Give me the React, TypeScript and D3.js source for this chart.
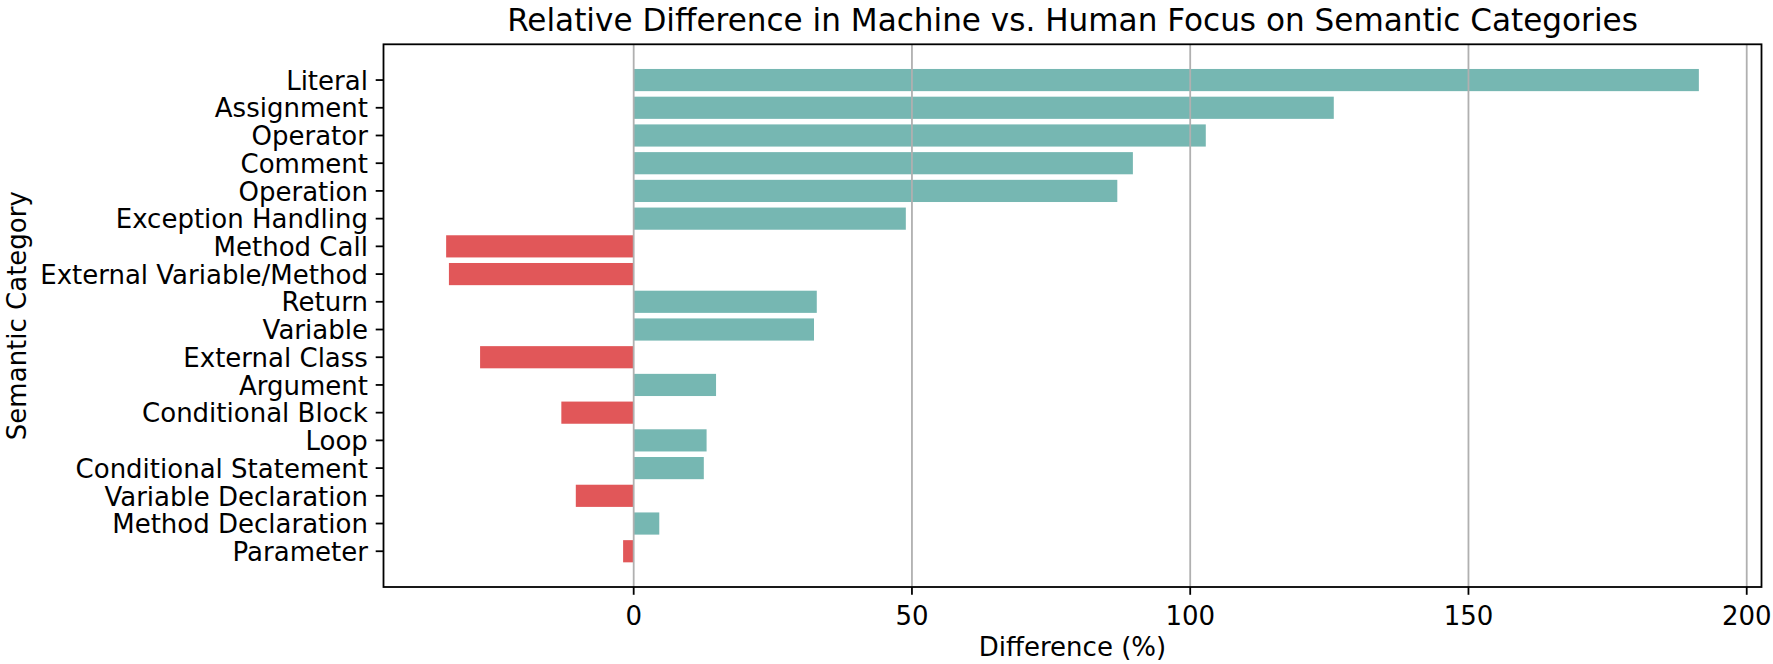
import React from "react";
import * as d3 from "d3";

const categories = [
  "Literal",
  "Assignment",
  "Operator",
  "Comment",
  "Operation",
  "Exception Handling",
  "Method Call",
  "External Variable/Method",
  "Return",
  "Variable",
  "External Class",
  "Argument",
  "Conditional Block",
  "Loop",
  "Conditional Statement",
  "Variable Declaration",
  "Method Declaration",
  "Parameter",
];

const differences = [
  191.4, 125.8, 102.8, 89.7, 86.9, 48.9, -33.7, -33.2, 32.9, 32.4, -27.6, 14.8,
  -13.0, 13.1, 12.6, -10.4, 4.6, -1.9,
];

const xTicks = [0, 50, 100, 150, 200];

const title = "Relative Difference in Machine vs. Human Focus on Semantic Categories";
const xLabel = "Difference (%)";
const yLabel = "Semantic Category";

const W = 1773;
const H = 664;
const M = { left: 383.5, right: 1761.5, top: 44.3, bottom: 587 };
const POS = "#76b7b2";
const NEG = "#e15759";
const FONT = "'DejaVu Sans', sans-serif";
const FS = 26;
const TFS = 31.1;
const TL = 7.8;

export default function App() {
  const minV = d3.min(differences) as number;
  const maxV = d3.max(differences) as number;
  const pad = (maxV - minV) * 0.05;
  const x = d3.scaleLinear().domain([minV - pad, maxV + pad]).range([M.left, M.right]);

  const n = categories.length;
  const yPad = (n - 1 + 0.8) * 0.05;
  const yLin = d3
    .scaleLinear()
    .domain([-0.4 - yPad, n - 1 + 0.4 + yPad])
    .range([M.top, M.bottom]);
  const bh = yLin(0.4) - yLin(-0.4);

  return (
    <svg
      width={W}
      height={H}
      style={{ position: "absolute", left: 0, top: 0, background: "#fff" }}
      fontFamily={FONT}
    >
      <rect x={0} y={0} width={W} height={H} fill="#fff" />
      {categories.map((c, i) => {
        const v = differences[i];
        const x0 = x(Math.min(0, v));
        const x1 = x(Math.max(0, v));
        return (
          <rect
            key={c}
            x={x0}
            y={yLin(i) - bh / 2}
            width={x1 - x0}
            height={bh}
            fill={v >= 0 ? POS : NEG}
          />
        );
      })}
      {xTicks.map((t) => (
        <line
          key={"g" + t}
          x1={x(t)}
          x2={x(t)}
          y1={M.top}
          y2={M.bottom}
          stroke="#b0b0b0"
          strokeWidth={1.8}
        />
      ))}
      <rect
        x={M.left}
        y={M.top}
        width={M.right - M.left}
        height={M.bottom - M.top}
        fill="none"
        stroke="#000"
        strokeWidth={1.8}
      />
      {xTicks.map((t) => (
        <g key={"t" + t}>
          <line x1={x(t)} x2={x(t)} y1={M.bottom} y2={M.bottom + TL} stroke="#000" strokeWidth={1.8} />
          <text x={x(t)} y={625} fontSize={FS} textAnchor="middle" fill="#000">
            {t}
          </text>
        </g>
      ))}
      {categories.map((c, i) => (
        <g key={"y" + c}>
          <line x1={M.left - TL} x2={M.left} y1={yLin(i)} y2={yLin(i)} stroke="#000" strokeWidth={1.8} />
          <text x={M.left - 2 * TL} y={yLin(i) + 9.7} fontSize={FS} textAnchor="end" fill="#000">
            {c}
          </text>
        </g>
      ))}
      <text x={(M.left + M.right) / 2} y={31} fontSize={TFS} textAnchor="middle" fill="#000">
        {title}
      </text>
      <text x={(M.left + M.right) / 2} y={656} fontSize={FS} textAnchor="middle" fill="#000">
        {xLabel}
      </text>
      <text
        transform={`translate(26,${(M.top + M.bottom) / 2}) rotate(-90)`}
        fontSize={FS}
        textAnchor="middle"
        fill="#000"
      >
        {yLabel}
      </text>
    </svg>
  );
}
